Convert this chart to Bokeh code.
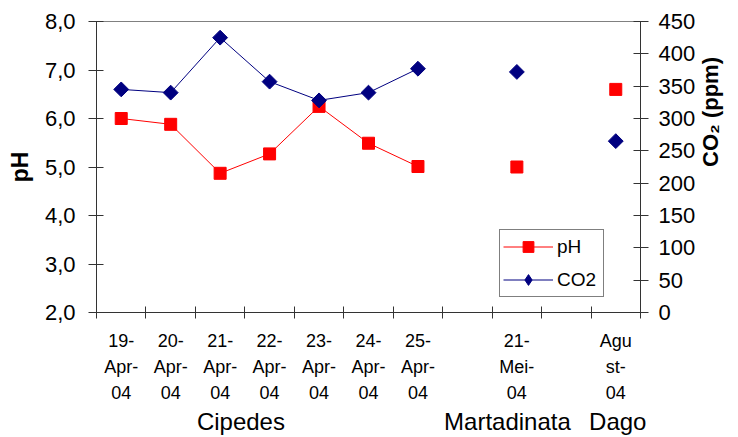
import numpy as np
from bokeh.plotting import figure
from bokeh.models import Range1d, LinearAxis, FixedTicker, ColumnDataSource, Legend, LegendItem
from bokeh.embed import file_html
from bokeh.resources import INLINE

# ---- data ----
categories = ["19-Apr-04", "20-Apr-04", "21-Apr-04", "22-Apr-04", "23-Apr-04",
              "24-Apr-04", "25-Apr-04", "", "21-Mei-04", "", "Agust-04"]
tick_labels = ["19-\nApr-\n04", "20-\nApr-\n04", "21-\nApr-\n04", "22-\nApr-\n04",
               "23-\nApr-\n04", "24-\nApr-\n04", "25-\nApr-\n04", "",
               "21-\nMei-\n04", "", "Agu\nst-\n04"]
ph = [6.0, 5.88, 4.87, 5.27, 6.25, 5.49, 5.01, None, 5.0, None, 6.6]
co2 = [345, 340, 425, 357, 328, 340, 377, None, 372, None, 265]
groups = ["Cipedes", "Martadinata", "Dago"]
group_pos = [2.42, 7.81, 10.04]
ph_ticks = [2, 3, 4, 5, 6, 7, 8]
ph_tick_labels = ["2,0", "3,0", "4,0", "5,0", "6,0", "7,0", "8,0"]
co2_ticks = [0, 50, 100, 150, 200, 250, 300, 350, 400, 450]

FONT = "Liberation Sans"

x = list(range(len(categories)))
src = ColumnDataSource(dict(
    x=x,
    ph=[np.nan if v is None else v for v in ph],
    co2=[np.nan if v is None else v for v in co2],
))

p = figure(width=738, height=437, output_backend="svg", toolbar_location=None,
           x_range=Range1d(-0.5, len(categories) - 0.5), y_range=Range1d(2, 8),
           min_border_left=96, min_border_right=94, min_border_top=21, min_border_bottom=124)
p.extra_y_ranges = {"co2": Range1d(0, 450)}
p.background_fill_color = "white"
p.border_fill_color = "white"
p.outline_line_color = "#808080"
p.outline_line_width = 1
p.xgrid.visible = False
p.ygrid.visible = False

# lines + markers
l1 = p.line("x", "ph", source=src, line_color="#FF0000", line_width=1)
m1 = p.scatter("x", "ph", source=src, marker="square", size=12,
               fill_color="#FF0000", line_color="#FF0000")
l2 = p.line("x", "co2", source=src, y_range_name="co2", line_color="#000080", line_width=1)
m2 = p.scatter("x", "co2", source=src, y_range_name="co2", marker="square", angle=np.pi / 4,
               size=10.5, fill_color="#000080", line_color="#000080")
# legend-only diamond glyph (nothing drawn in the plot)
leg_src = ColumnDataSource(dict(x=[np.nan], y=[np.nan]))
m2_leg = p.scatter("x", "y", source=leg_src, y_range_name="co2", marker="diamond",
                   fill_color="#000080", line_color="#000080")

# left axis
ya = p.yaxis[0]
ya.ticker = FixedTicker(ticks=ph_ticks)
ya.major_label_overrides = {t: s for t, s in zip(ph_ticks, ph_tick_labels)}
ya.axis_label = "pH"
ya.axis_label_text_font = FONT
ya.axis_label_text_font_style = "bold"
ya.axis_label_text_font_size = "23px"
ya.axis_label_text_color = "black"
ya.axis_label_standoff = 9
ya.major_label_text_font = FONT
ya.major_label_text_font_size = "22px"
ya.major_label_text_color = "black"
ya.major_label_standoff = 13
ya.major_tick_in = 7
ya.major_tick_out = 8
ya.minor_tick_line_color = None
ya.axis_line_color = "#333333"
ya.major_tick_line_color = "#333333"

# right axis
ra = LinearAxis(y_range_name="co2", ticker=FixedTicker(ticks=co2_ticks))
ra.axis_label = "CO\u2082 (ppm)"
ra.axis_label_text_font = FONT
ra.axis_label_text_font_style = "bold"
ra.axis_label_text_font_size = "22px"
ra.axis_label_text_color = "black"
ra.axis_label_standoff = 12
try:
    ra.axis_label_orientation = np.pi / 2
except Exception:
    pass
ra.major_label_text_font = FONT
ra.major_label_text_font_size = "22px"
ra.major_label_text_color = "black"
ra.major_label_standoff = 10
ra.major_tick_in = 7
ra.major_tick_out = 8
ra.minor_tick_line_color = None
ra.axis_line_color = "#333333"
ra.major_tick_line_color = "#333333"
p.add_layout(ra, "right")

# bottom category axis (ticks at category boundaries via minor ticks)
xa = p.xaxis[0]
xa.ticker = FixedTicker(ticks=x, minor_ticks=[i - 0.5 for i in range(len(categories) + 1)])
xa.major_label_overrides = {i: s for i, s in zip(x, tick_labels)}
xa.major_tick_in = 0
xa.major_tick_out = 0
xa.minor_tick_in = 6
xa.minor_tick_out = 6
xa.minor_tick_line_color = "#333333"
xa.axis_line_color = "#333333"
xa.major_label_text_font = FONT
xa.major_label_text_font_size = "18px"
xa.major_label_text_line_height = 1.3
xa.major_label_text_color = "black"
xa.major_label_standoff = 12

# group axis
ga = LinearAxis(ticker=FixedTicker(ticks=group_pos, minor_ticks=[]))
ga.major_label_overrides = {t: s for t, s in zip(group_pos, groups)}
ga.axis_line_color = None
ga.major_tick_line_color = None
ga.minor_tick_line_color = None
ga.major_tick_in = 0
ga.major_tick_out = 0
ga.major_label_text_font = FONT
ga.major_label_text_font_size = "24px"
ga.major_label_text_color = "black"
ga.major_label_standoff = 2
p.add_layout(ga, "below")

legend = Legend(items=[LegendItem(label="pH", renderers=[l1, m1]),
                       LegendItem(label="CO2", renderers=[l2, m2_leg])],
                location=(403, 15))
legend.border_line_color = "black"
legend.border_line_width = 1
legend.background_fill_color = "white"
legend.background_fill_alpha = 1
legend.label_text_font = FONT
legend.label_text_font_size = "19px"
legend.label_text_color = "black"
legend.glyph_width = 50
legend.glyph_height = 27
legend.label_standoff = 4
legend.label_width = 43
legend.padding = 3
legend.spacing = 6
legend.margin = 0
p.add_layout(legend, "center")

open("out.html", "w").write(file_html(p, INLINE))
